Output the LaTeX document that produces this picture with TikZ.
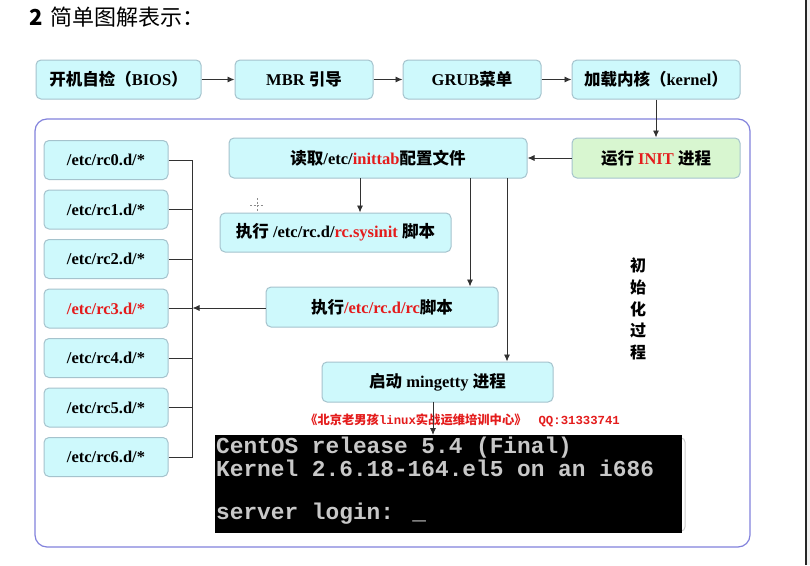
\documentclass[tikz,border=0pt]{standalone}
\usepackage{fontspec}
\setmainfont{Liberation Serif}
\newfontfamily\cjk{Noto Sans CJK SC}
\newfontfamily\monof{Liberation Mono}
\newfontfamily\titlef{Noto Sans CJK SC}
\usetikzlibrary{arrows.meta}
\definecolor{boxfill}{RGB}{206,249,252}
\definecolor{greenfill}{RGB}{216,246,208}
\definecolor{boxline}{RGB}{165,195,205}
\definecolor{framec}{RGB}{130,130,220}
\definecolor{redtxt}{RGB}{228,28,28}
\definecolor{conn}{RGB}{50,50,50}
\definecolor{termtxt}{RGB}{200,200,200}
\newcommand{\zh}[1]{{\cjk\bfseries #1}}
\newcommand{\rd}[1]{\textcolor{redtxt}{#1}}
\begin{document}
\begin{tikzpicture}[x=1pt,y=-1pt,
  box/.style={draw=boxline, fill=boxfill, rounded corners=5pt, line width=1pt,
    minimum height=39pt, inner sep=0pt, font=\fontsize{16.5}{18}\selectfont\bfseries},
  gbox/.style={box, fill=greenfill},
  conline/.style={draw=conn, line width=0.9pt},
  arr/.style={conline, -{Latex[length=7pt,width=6pt]}}]
\useasboundingbox (0,0) rectangle (810,565);
\fill[white] (0,0) rectangle (805,565);
\fill[black!6] (806,0) rectangle (810,565);
\draw[black!85, line width=2pt] (805.5,0) -- (805.5,565);

% title
\node[anchor=west, inner sep=0pt, font=\fontsize{22}{24}\selectfont] (title) at (29,17) {\titlef{\bfseries 2}\hspace{8pt}简单图解表示：};

% top row
\node[box, minimum width=165pt] (bios) at (118.5,79.5) {\zh{开机自检（}BIOS\zh{）}};
\node[box, minimum width=138pt] (mbr) at (304,79.5) {MBR \zh{引导}};
\node[box, minimum width=138pt] (grub) at (472,79.5) {GRUB\zh{菜单}};
\node[box, minimum width=168pt] (kern) at (656,79.5) {\zh{加载内核（}kernel\zh{）}};
\draw[arr] (bios) -- (mbr);
\draw[arr] (mbr) -- (grub);
\draw[arr] (grub) -- (kern);

% frame
\draw[framec, line width=1.2pt, rounded corners=12pt] (35,119) rectangle (750,547);

% init section
\node[gbox, minimum width=168pt, minimum height=40pt] (init) at (656,158) {\zh{运行} \rd{INIT} \zh{进程}};
\node[box, minimum width=298pt, minimum height=40pt] (inittab) at (378,158) {\zh{读取}/etc/\rd{inittab}\zh{配置文件}};
\node[box, minimum width=231pt] (sysinit) at (335.5,232.5) {\zh{执行} /etc/rc.d/\rd{rc.sysinit} \zh{脚本}};
\node[box, minimum width=232pt, minimum height=40pt] (rc) at (382,307) {\zh{执行}\rd{/etc/rc.d/rc}\zh{脚本}};
\node[box, minimum width=231pt, minimum height=40pt] (ming) at (437.5,382) {\zh{启动} mingetty \zh{进程}};

% runlevel boxes
\node[box, minimum width=124pt] (r0) at (106,160) {/etc/rc0.d/*};
\node[box, minimum width=124pt] (r1) at (106,209.5) {/etc/rc1.d/*};
\node[box, minimum width=124pt] (r2) at (106,259) {/etc/rc2.d/*};
\node[box, minimum width=124pt] (r3) at (106,308.5) {\rd{/etc/rc3.d/*}};
\node[box, minimum width=124pt] (r4) at (106,358) {/etc/rc4.d/*};
\node[box, minimum width=124pt] (r5) at (106,407.5) {/etc/rc5.d/*};
\node[box, minimum width=124pt] (r6) at (106,457) {/etc/rc6.d/*};

\coordinate (bt) at (192.5,160);
\coordinate (bb) at (192.5,457);
\coordinate (bm) at (192.5,308);
\draw[conline] (bt) -- (bb);
\foreach \n in {r0,r1,r2,r3,r4,r5,r6}{
  \draw[conline] (\n.east) -- (\n.east -| bt);
}
\draw[arr] (rc.west |- bm) -- (bm);

% connectors
\draw[arr] (kern.south) -- (init.north);
\draw[arr] (init.west) -- (inittab.east);
\coordinate (c1) at (360,178);
\draw[arr] (c1) -- (c1 |- sysinit.north);
\coordinate (c2) at (470,178);
\draw[arr] (c2) -- (c2 |- rc.north);
\coordinate (c3) at (507,178);
\draw[arr] (c3) -- (c3 |- ming.north);

% crosshair mark
\draw[black!45, line width=0.6pt, dash pattern=on 2pt off 1.5pt] (250,205) -- (264,205) (257,198) -- (257,212);

% vertical text
\node[align=center, inner sep=0pt, font=\fontsize{16}{21.7}\selectfont] (vt) at (638,309) {\zh{初}\\\zh{始}\\\zh{化}\\\zh{过}\\\zh{程}};

% terminal
\draw[black!20, line width=1pt, rounded corners=4pt] (660,438) rectangle (685,531);
\node[fill=black, minimum width=467pt, minimum height=98pt, inner sep=0pt, anchor=north west] (term) at (215,435) {};
\node[anchor=base west, inner sep=0pt, text=termtxt, font=\monof\bfseries\fontsize{22.8}{23}\selectfont] (l1) at (216,453) {CentOS release 5.4 (Final)};
\node[anchor=base west, inner sep=0pt, text=termtxt, font=\monof\bfseries\fontsize{22.8}{23}\selectfont] (l2) at (216,476) {Kernel 2.6.18-164.el5 on an i686};
\node[anchor=base west, inner sep=0pt, text=termtxt, font=\monof\bfseries\fontsize{22.8}{23}\selectfont] (l3) at (216,519) {server login: \_};

% watermark text
\node[anchor=base west, inner sep=0pt, text=redtxt, font=\fontsize{12.3}{13}\selectfont] (wm) at (305,424) {\zh{《北京老男孩}\monof\bfseries linux\zh{实战运维培训中心》}\hspace{12pt}\monof\bfseries QQ:31333741};
\coordinate (mb) at (433,402);
\draw[arr] (mb) -- (mb |- term.north);
\end{tikzpicture}
\end{document}
